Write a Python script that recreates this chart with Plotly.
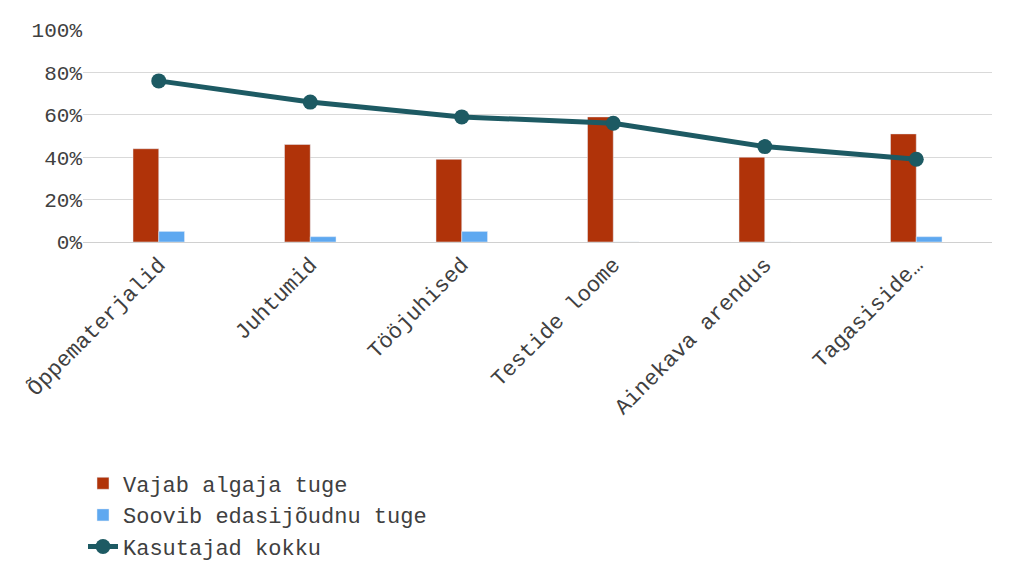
import plotly.graph_objects as go

categories = ["Õppematerjalid", "Juhtumid", "Tööjuhised", "Testide loome", "Ainekava arendus", "Tagasiside…"]
algaja = [44, 46, 39, 59, 40, 51]
edasijoudnu = [5, 2.5, 5, 0, 0, 2.5]
kokku = [76, 66, 59, 56, 45, 39]

font = "Liberation Mono, Courier New, monospace"

fig = go.Figure()
fig.add_trace(go.Bar(x=categories, y=algaja, name="Vajab algaja tuge", marker_color="#b03309"))
fig.add_trace(go.Bar(x=categories, y=edasijoudnu, name="Soovib edasijõudnu tuge", marker_color="#5ea8f0"))
fig.add_trace(go.Scatter(x=categories, y=kokku, name="Kasutajad kokku", mode="lines+markers",
                         line=dict(color="#1d5a63", width=5), marker=dict(size=15, color="#1d5a63")))

fig.update_layout(
    width=1024, height=572,
    margin=dict(l=75, r=40, t=18, b=335),
    plot_bgcolor="white", paper_bgcolor="white",
    font=dict(family=font, size=21, color="#404040"),
    bargap=0.66, bargroupgap=0,
    showlegend=True,
    legend=dict(orientation="h", x=0.0, y=-1.04, xanchor="left", yanchor="top",
                entrywidth=425, entrywidthmode="pixels", traceorder="normal",
                font=dict(size=22, color="#404040")),
    xaxis=dict(tickangle=-45, showline=True, linecolor="#d0d0d0", ticks="",
               tickfont=dict(size=22)),
    yaxis=dict(range=[0, 100], dtick=20, ticksuffix="%", gridcolor="#d9d9d9",
               zeroline=False, showline=False),
)
fig.write_html("out.html")
